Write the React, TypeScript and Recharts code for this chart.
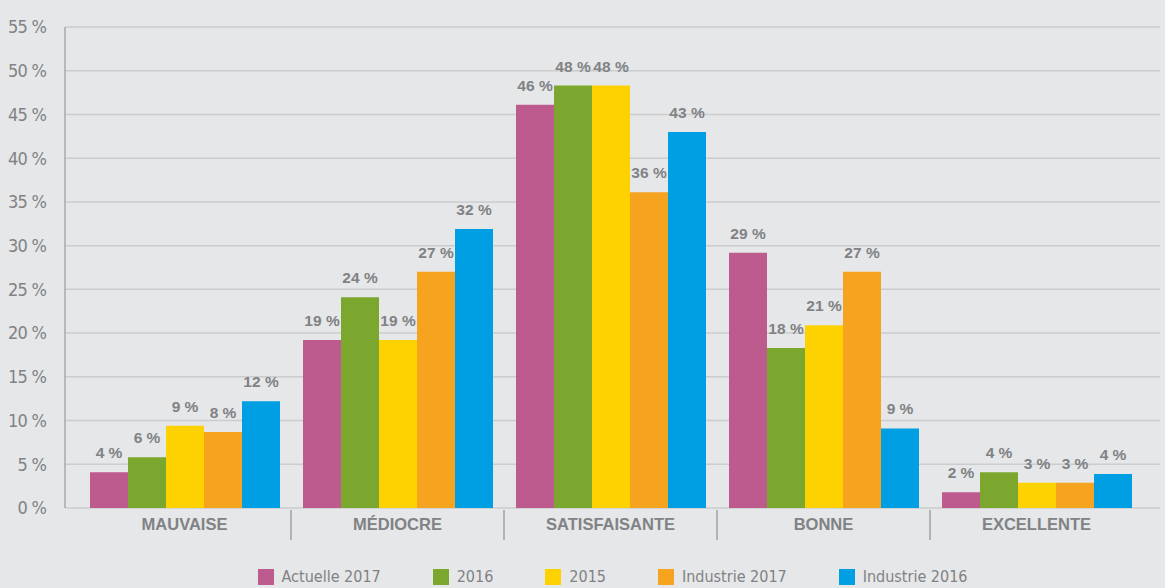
import { BarChart, Bar, XAxis, YAxis, CartesianGrid, Legend, LabelList } from 'recharts';

const categories = ['MAUVAISE', 'MÉDIOCRE', 'SATISFAISANTE', 'BONNE', 'EXCELLENTE'];
const actuelle2017 = [4.1, 19.2, 46.1, 29.2, 1.8];
const y2016 = [5.8, 24.1, 48.3, 18.3, 4.1];
const y2015 = [9.4, 19.2, 48.3, 20.9, 2.9];
const industrie2017 = [8.7, 27.0, 36.1, 27.0, 2.9];
const industrie2016 = [12.2, 31.9, 43.0, 9.1, 3.9];
// printed labels
const actuelle2017Lbl = [4, 19, 46, 29, 2];
const y2016Lbl = [6, 24, 48, 18, 4];
const y2015Lbl = [9, 19, 48, 21, 3];
const industrie2017Lbl = [8, 27, 36, 27, 3];
const industrie2016Lbl = [12, 32, 43, 9, 4];
const yTicks = [0, 5, 10, 15, 20, 25, 30, 35, 40, 45, 50, 55];

const series = [
  { key: 'a2017', name: 'Actuelle 2017', color: '#BE5B8E', values: actuelle2017, labels: actuelle2017Lbl },
  { key: 'y2016', name: '2016', color: '#7BA72F', values: y2016, labels: y2016Lbl },
  { key: 'y2015', name: '2015', color: '#FDD200', values: y2015, labels: y2015Lbl },
  { key: 'i2017', name: 'Industrie 2017', color: '#F6A31F', values: industrie2017, labels: industrie2017Lbl },
  { key: 'i2016', name: 'Industrie 2016', color: '#009FE3', values: industrie2016, labels: industrie2016Lbl },
];

const data = categories.map((c, i) => {
  const row: any = { cat: c };
  series.forEach((s) => {
    row[s.key] = s.values[i];
    row[s.key + 'L'] = `${s.labels[i]} %`;
  });
  return row;
});

const W = 1165, H = 588;
const M = { top: 27, right: 5, left: 0, bottom: 8 };
const YW = 65;
const PAD_L = 13, PAD_R = 17;
const BAND = (W - M.right - YW - PAD_L - PAD_R) / categories.length;

const grey = '#808285';
const narrow = "'DejaVu Sans Condensed', 'DejaVu Sans', sans-serif";
const sans = "'Liberation Sans', Arial, sans-serif";

function CatTick(props: any) {
  const { x, y, payload, index } = props;
  return (
    <g>
      <text x={x} y={y + 14} textAnchor="middle" fill={grey} fontFamily={sans} fontWeight="bold" fontSize={16.5}>
        {payload.value}
      </text>
      {index < categories.length - 1 && (
        <line x1={x + BAND / 2} x2={x + BAND / 2} y1={y - 6} y2={y + 24} stroke="#8f9194" strokeWidth={1.2} />
      )}
    </g>
  );
}

function LegendBox() {
  return (
    <div style={{ display: 'flex', justifyContent: 'center', gap: 52, fontFamily: narrow, fontSize: 16, color: grey }}>
      {series.map((s) => (
        <div key={s.key} style={{ display: 'flex', alignItems: 'center', gap: 8 }}>
          <span style={{ width: 16, height: 16, background: s.color, display: 'inline-block' }} />
          <span>{s.name}</span>
        </div>
      ))}
    </div>
  );
}

export default function App() {
  return (
    <div style={{ position: 'absolute', left: 0, top: 0, width: W, height: H, background: '#E6E7E8' }}>
      <BarChart width={W} height={H} data={data} margin={M} barCategoryGap={12} barGap={0}>
        <CartesianGrid vertical={false} stroke="#CBCCCE" strokeWidth={1.5} />
        <XAxis dataKey="cat" axisLine={false} tickLine={false} tick={<CatTick />} height={53} padding={{ left: PAD_L, right: PAD_R }} interval={0} />
        <YAxis width={YW} domain={[0, 55]} ticks={yTicks} tickFormatter={(v) => `${v} %`} axisLine={{ stroke: '#9a9b9d', strokeWidth: 1.2 }} tickLine={false}
          tick={{ fill: grey, fontFamily: narrow, fontSize: 18, letterSpacing: -0.8 }} tickMargin={13} />
        <Legend verticalAlign="bottom" content={<LegendBox />} wrapperStyle={{ left: YW, width: W - YW - M.right, bottom: 2 }} />
        {series.map((s) => (
          <Bar key={s.key} dataKey={s.key} name={s.name} fill={s.color} isAnimationActive={false}>
            <LabelList dataKey={s.key + 'L'} position="top" offset={14}
              style={{ fill: grey, fontFamily: sans, fontWeight: 'bold', fontSize: 15.5 }} />
          </Bar>
        ))}
      </BarChart>
    </div>
  );
}
